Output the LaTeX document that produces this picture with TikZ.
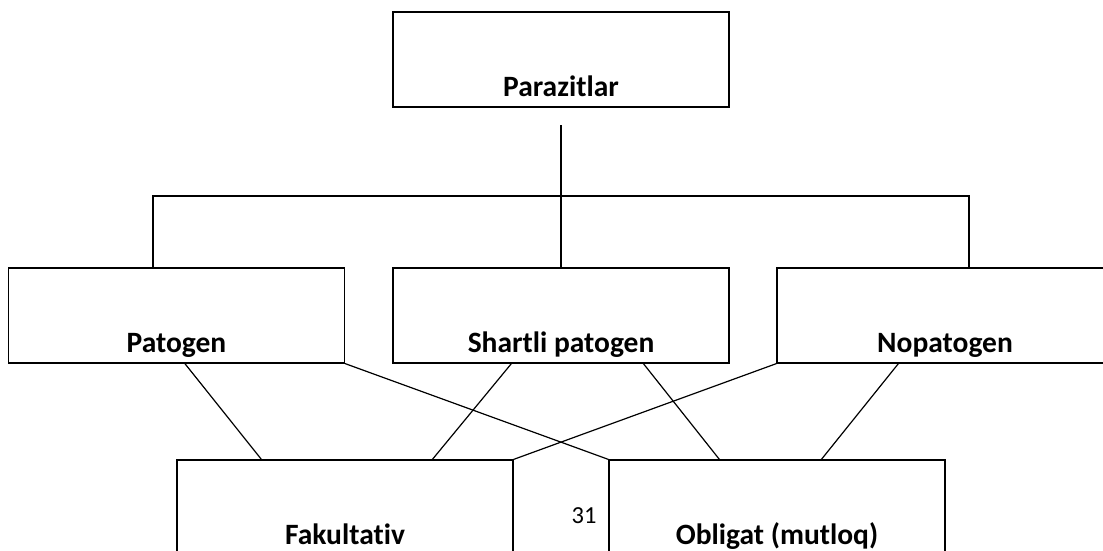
\documentclass[tikz,border=0pt]{standalone}
\usepackage{fontspec}
\setmainfont[Ligatures=NoCommon]{Carlito}
\usepackage{tikz}

\tikzset{
  box/.style={draw, line width=1.2pt, rectangle, inner sep=0pt, minimum width=336pt,
    text height=84pt, text depth=11pt, font=\fontsize{29.5}{31}\selectfont\bfseries},
  link/.style={line width=1.2pt}
}

\begin{document}
\begin{tikzpicture}[x=1pt, y=-1pt]
      \useasboundingbox (0, 0) rectangle (1103, 551);
      \node[box] (par) at (561, 59.5) {Parazitlar};
      \node[box] (pat) at (176.5, 315.5) {Patogen};
      \node[box] (shp) at (561, 315.5) {Shartli patogen};
      \node[box] (nop) at (945, 315.5) {Nopatogen};
      \node[box] (fak) at (345, 507.5) {Fakultativ};
      \node[box] (obl) at (777, 507.5) {Obligat (mutloq)};
      \node[anchor=base, font=\fontsize{24.5}{26}\selectfont] (pgno) at (584, 523) {31};
      \coordinate (stem) at (561, 125);
      \coordinate (busL) at (153, 196);
      \coordinate (busR) at (969, 196);
      \draw[link] (stem) -- (shp.north);
      \draw[link] (busL |- pat.north) -- (busL) -- (busR) -- (busR |- nop.north);
      \draw[link] ([xshift=177pt]pat.south west) -- ([xshift=85pt]fak.north west);
      \draw[link] (pat.south east) -- (obl.north west);
      \draw[link] ([xshift=119pt]shp.south west) -- ([xshift=256pt]fak.north west);
      \draw[link] ([xshift=251pt]shp.south west) -- ([xshift=111pt]obl.north west);
      \draw[link] (nop.south west) -- (fak.north east);
      \draw[link] ([xshift=122pt]nop.south west) -- ([xshift=213pt]obl.north west);
    \end{tikzpicture}
\end{document}
